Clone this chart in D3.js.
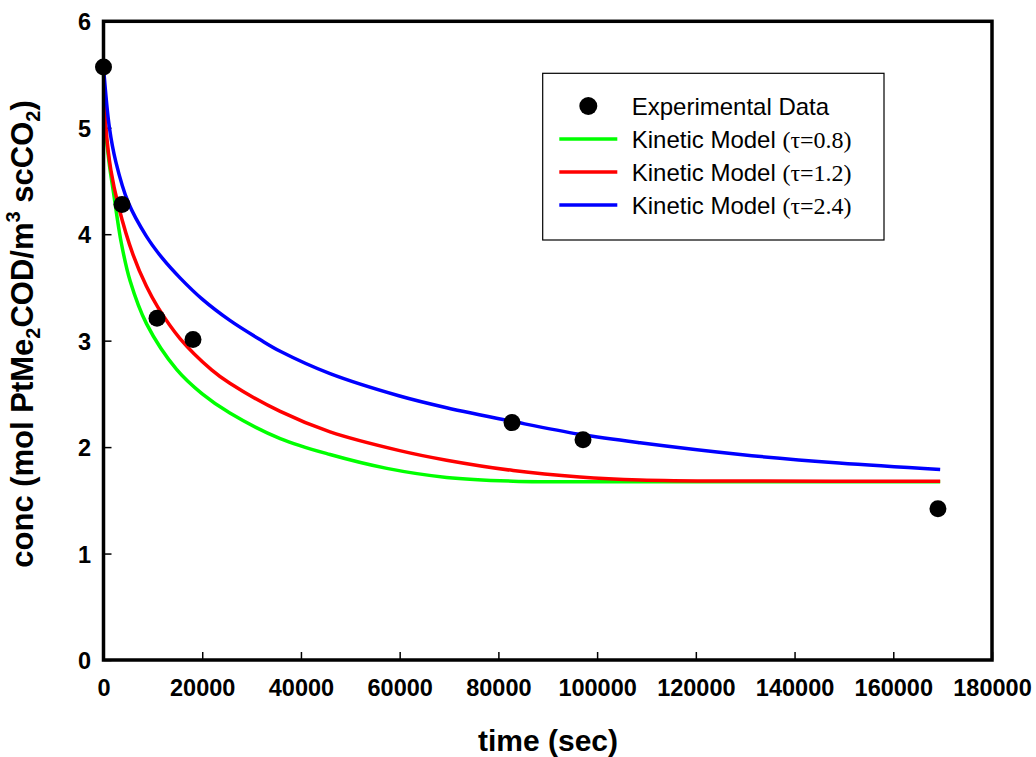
<!DOCTYPE html>
<html>
<head>
<meta charset="utf-8">
<script src="https://cdn.jsdelivr.net/npm/d3@7"></script>
<style>
  body { margin: 0; background: #fff; }
  svg { display: block; }
  .sans { font-family: Arial, "Liberation Sans", sans-serif; }
</style>
</head>
<body>
<svg id="chart" width="1036" height="757"></svg>
<script>
// experimental points
const expTime = [0, 3750, 10840, 18130, 82760, 97140, 169050];
const expConc = [5.57, 4.28, 3.21, 3.01, 2.23, 2.07, 1.42];

// kinetic model, tau = 0.8
const timeTau08 = [0, 400, 1200, 2000, 3600, 5400, 8700, 14800, 20000, 25600, 35800, 45900, 57400, 69500, 83000, 110000, 169500];
const concTau08 = [5.57, 5.0, 4.65, 4.4, 3.92, 3.56, 3.16, 2.73, 2.5, 2.32, 2.08, 1.93, 1.80, 1.715, 1.68, 1.675, 1.675];

// kinetic model, tau = 1.2
const timeTau12 = [0, 500, 1500, 3000, 6000, 8700, 11000, 15500, 21900, 25600, 35800, 45900, 60000, 69500, 83000, 96500, 108700, 130000, 169500];
const concTau12 = [5.57, 5.0, 4.6, 4.27, 3.805, 3.51, 3.315, 3.02, 2.726, 2.60, 2.335, 2.143, 1.967, 1.877, 1.78, 1.72, 1.692, 1.681, 1.68];

// kinetic model, tau = 2.4
const timeTau24 = [0, 1200, 2500, 5000, 8700, 12000, 15500, 20000, 25600, 31700, 35800, 45900, 60000, 69500, 83000, 96500, 108700, 129000, 149000, 169500];
const concTau24 = [5.57, 5.0, 4.68, 4.3, 3.98, 3.77, 3.59, 3.39, 3.19, 3.01, 2.90, 2.69, 2.48, 2.37, 2.24, 2.12, 2.04, 1.93, 1.85, 1.79];

const xTicks = [0, 20000, 40000, 60000, 80000, 100000, 120000, 140000, 160000, 180000];
const yTicks = [0, 1, 2, 3, 4, 5, 6];

const legendLabels = ['Experimental Data', 'Kinetic Model ', 'Kinetic Model ', 'Kinetic Model '];
const legendTau = ['', '(\u03C4=0.8)', '(\u03C4=1.2)', '(\u03C4=2.4)'];

const series = [
  {t: timeTau08, c: concTau08, color: '#00ff00'},
  {t: timeTau12, c: concTau12, color: '#ff0000'},
  {t: timeTau24, c: concTau24, color: '#0000ff'}
];

const svg = d3.select('#chart');
const plot = {left: 103.5, right: 992, top: 21.3, bottom: 660};

const x = d3.scaleLinear().domain([0, 180000]).range([plot.left, plot.right]);
const y = d3.scaleLinear().domain([0, 6]).range([plot.bottom, plot.top]);

// axes, ticks pointing inward
const xAxis = d3.axisBottom(x).tickValues(xTicks).tickSize(-8).tickSizeOuter(0).tickFormat(d3.format('d'));
const gx = svg.append('g')
    .attr('transform', 'translate(0,' + plot.bottom + ')')
    .call(xAxis);
gx.select('.domain').remove();
gx.selectAll('.tick line').attr('stroke', '#000').attr('stroke-width', 1.5);
gx.selectAll('.tick text')
    .attr('y', 36).attr('dy', 0)
    .attr('font-size', 23.5).attr('font-weight', 'bold').attr('fill', '#000')
    .attr('font-family', 'Arial, "Liberation Sans", sans-serif');

const yAxis = d3.axisLeft(y).tickValues(yTicks).tickSize(-8).tickSizeOuter(0).tickFormat(d3.format('d'));
const gy = svg.append('g')
    .attr('transform', 'translate(' + plot.left + ',0)')
    .call(yAxis);
gy.select('.domain').remove();
gy.selectAll('.tick line').attr('stroke', '#000').attr('stroke-width', 1.5);
gy.selectAll('.tick text')
    .attr('x', -12.5).attr('dy', '0.36em')
    .attr('font-size', 23.5).attr('font-weight', 'bold').attr('fill', '#000')
    .attr('font-family', 'Arial, "Liberation Sans", sans-serif');

// model curves
const line = d3.line()
    .x(d => x(d[0]))
    .y(d => y(d[1]))
    .curve(d3.curveCatmullRom.alpha(0.5));

svg.append('g').selectAll('path')
    .data(series)
    .join('path')
    .attr('d', s => line(s.t.map((t, i) => [t, s.c[i]])))
    .attr('fill', 'none')
    .attr('stroke', s => s.color)
    .attr('stroke-width', 3.5);

// experimental points
svg.append('g').selectAll('circle')
    .data(expTime.map((t, i) => [t, expConc[i]]))
    .join('circle')
    .attr('cx', d => x(d[0]))
    .attr('cy', d => y(d[1]))
    .attr('r', 8.5)
    .attr('fill', '#000');

// frame
svg.append('rect')
    .attr('x', plot.left).attr('y', plot.top)
    .attr('width', plot.right - plot.left).attr('height', plot.bottom - plot.top)
    .attr('fill', 'none').attr('stroke', '#000').attr('stroke-width', 3.5);

// axis titles
svg.append('text')
    .attr('class', 'sans')
    .attr('x', 548).attr('y', 751)
    .attr('text-anchor', 'middle')
    .attr('font-size', 30).attr('font-weight', 'bold')
    .text('time (sec)');

const yt = svg.append('text')
    .attr('class', 'sans')
    .attr('transform', 'translate(33,334) rotate(-90)')
    .attr('text-anchor', 'middle')
    .attr('font-size', 31).attr('font-weight', 'bold');
yt.append('tspan').text('conc (mol PtMe');
yt.append('tspan').attr('font-size', 20).attr('dy', 7).text('2');
yt.append('tspan').attr('dy', -7).text('COD/m');
yt.append('tspan').attr('font-size', 20).attr('dy', -13).text('3');
yt.append('tspan').attr('dy', 13).text(' scCO');
yt.append('tspan').attr('font-size', 20).attr('dy', 7).text('2');
yt.append('tspan').attr('dy', -7).text(')');

// legend
const legend = svg.append('g');
legend.append('rect')
    .attr('x', 542.7).attr('y', 73.3)
    .attr('width', 341.3).attr('height', 166.7)
    .attr('fill', '#fff').attr('stroke', '#000').attr('stroke-width', 1.2);

const rowY = [106, 139, 172, 205];
legend.append('circle').attr('cx', 588.3).attr('cy', rowY[0]).attr('r', 9).attr('fill', '#000');
series.forEach((s, i) => {
  legend.append('line')
      .attr('x1', 559.3).attr('x2', 617.3)
      .attr('y1', rowY[i + 1]).attr('y2', rowY[i + 1])
      .attr('stroke', s.color).attr('stroke-width', 3.5);
});
legendLabels.forEach((lab, i) => {
  const t = legend.append('text')
      .attr('x', 631.7).attr('y', rowY[i]).attr('dy', '0.36em')
      .attr('font-size', 24)
      .attr('font-family', 'Arial, "Liberation Sans", sans-serif');
  t.append('tspan').text(lab);
  if (legendTau[i]) {
    t.append('tspan').attr('font-family', '"Times New Roman", "Liberation Serif", serif').text(legendTau[i]);
  }
});
</script>
</body>
</html>
